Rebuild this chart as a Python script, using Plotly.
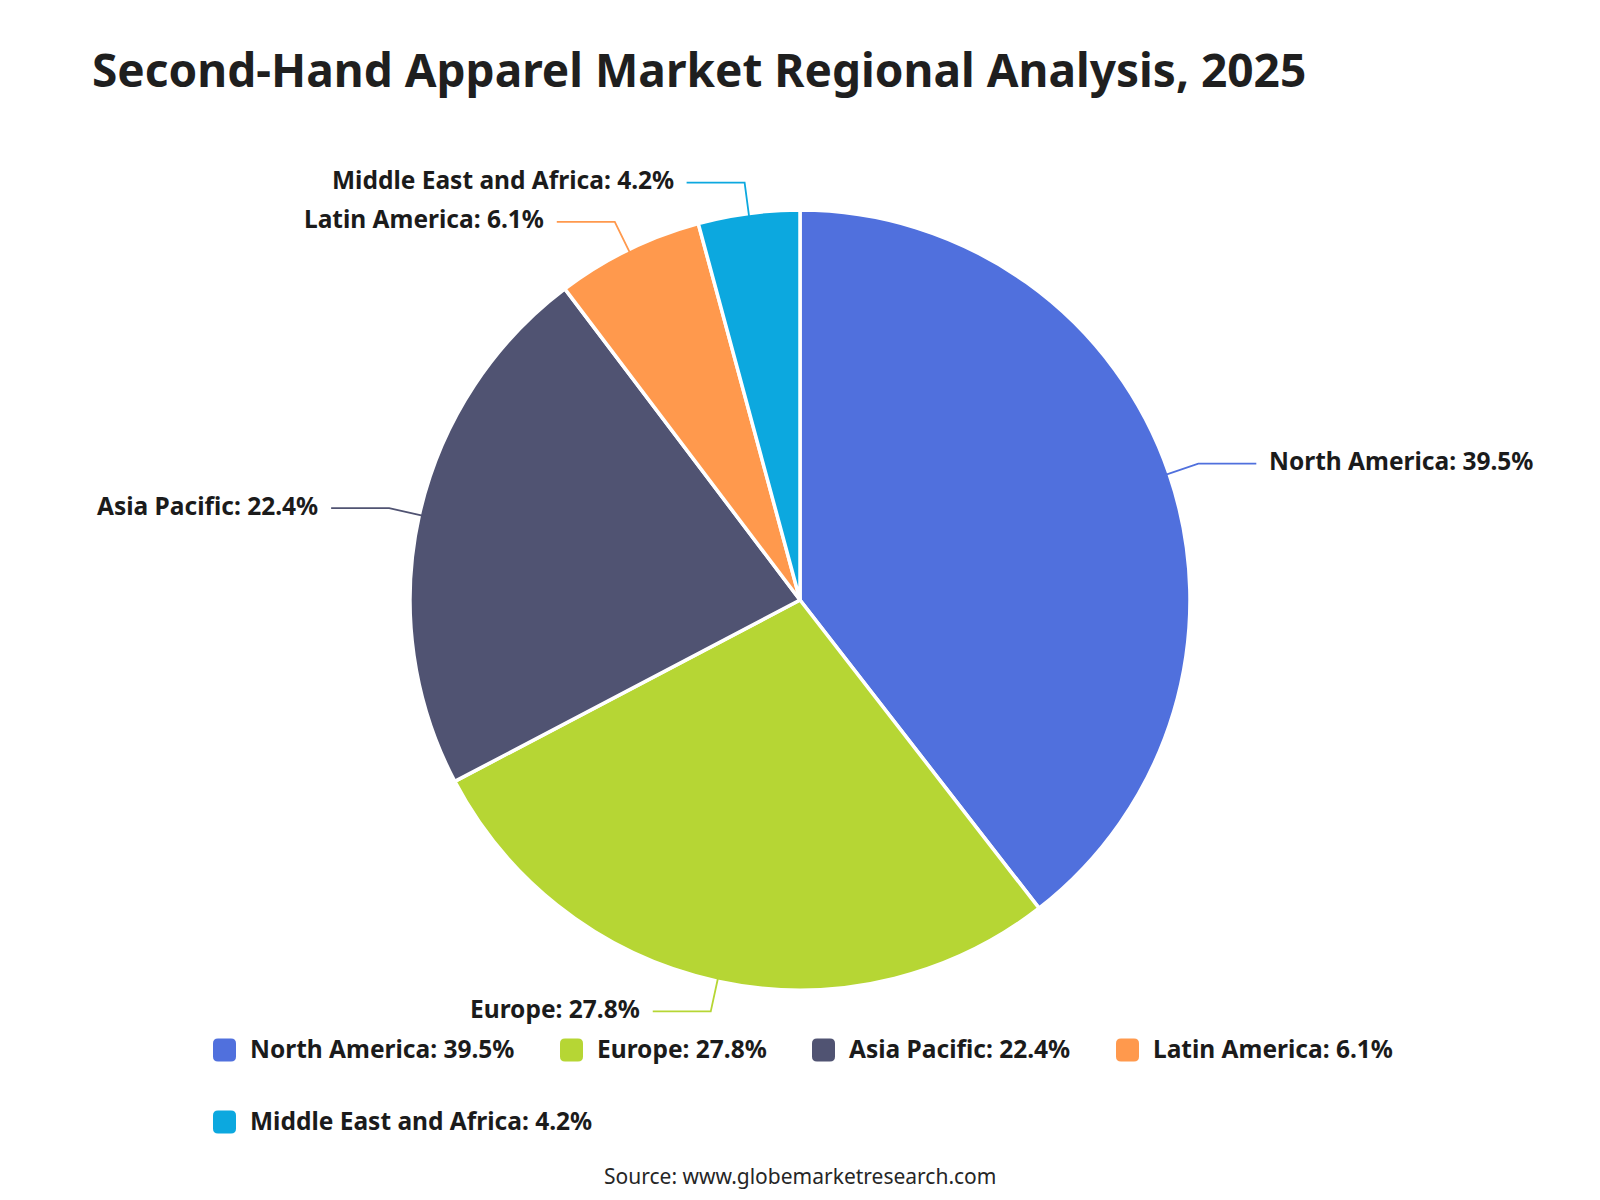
import math
import plotly.graph_objects as go

# ---- data ----
regions = ["North America", "Europe", "Asia Pacific", "Latin America", "Middle East and Africa"]
shares = [39.5, 27.8, 22.4, 6.1, 4.2]
colors = ["#5070dd", "#b6d634", "#505372", "#ff994d", "#0ca8df"]
title_text = "Second-Hand Apparel Market Regional Analysis, 2025"
source_text = "Source: www.globemarketresearch.com"

# ---- layout constants (pixels) ----
W, H = 1600, 1200
CX, CY, R = 800, 600, 390
R_ELBOW = 421
H_LEN = 58
GAP = 11
FONT = "Noto Sans"
TXT = "#1b1b1b"
LSIZE = 24.5

labels_full = [f"{r}: {v}%" for r, v in zip(regions, shares)]

fig = go.Figure()
fig.add_trace(go.Pie(
    labels=regions, values=shares, sort=False, direction="clockwise", rotation=0,
    marker=dict(colors=colors, line=dict(color="white", width=3.5)),
    textinfo="none", hoverinfo="label+percent", showlegend=False,
    domain=dict(x=[(CX - R) / W, (CX + R) / W], y=[1 - (CY + R) / H, 1 - (CY - R) / H]),
))
# invisible cartesian overlay in pixel coordinates for leader lines / legend
fig.add_trace(go.Scatter(x=[None], y=[None], mode="markers", showlegend=False, hoverinfo="skip"))

shapes = []
annotations = []
total = sum(shares)
cum = 0.0
for name, v, c, lab in zip(regions, shares, colors, labels_full):
    mid = (cum + v / 2) / total
    cum += v
    th = 2 * math.pi * mid
    sx, sy = math.sin(th), -math.cos(th)
    x0, y0 = CX + (R - 3) * sx, CY + (R - 3) * sy
    x1, y1 = CX + R_ELBOW * sx, CY + R_ELBOW * sy
    side = 1 if sx >= 0 else -1
    x2 = x1 + side * H_LEN
    shapes.append(dict(type="path", xref="x", yref="y",
                       path=f"M{x0},{y0} L{x1},{y1} L{x2},{y1}",
                       line=dict(color=c, width=1.8)))
    annotations.append(dict(x=x2 + side * GAP, y=y1 - 3, xref="x", yref="y", text=f"<b>{lab}</b>",
                            showarrow=False, xanchor="left" if side > 0 else "right", yanchor="middle",
                            font=dict(family=FONT, size=LSIZE, color=TXT)))

# custom legend (rounded squares + labels)
leg_pos = [(213, 1050), (560, 1050), (812, 1050), (1116, 1050), (213, 1122)]
S, RR = 23, 5
for (lx, ly), c, lab in zip(leg_pos, colors, labels_full):
    a, b = lx, ly - S / 2
    p = (f"M{a+RR},{b} L{a+S-RR},{b} Q{a+S},{b} {a+S},{b+RR} L{a+S},{b+S-RR} "
         f"Q{a+S},{b+S} {a+S-RR},{b+S} L{a+RR},{b+S} Q{a},{b+S} {a},{b+S-RR} "
         f"L{a},{b+RR} Q{a},{b} {a+RR},{b} Z")
    shapes.append(dict(type="path", xref="x", yref="y", path=p, fillcolor=c, line=dict(width=0)))
    annotations.append(dict(x=lx + S + 12, y=ly - 2, xref="x", yref="y", text=f"<b>{lab}</b>",
                            showarrow=False, xanchor="left", yanchor="middle",
                            font=dict(family=FONT, size=LSIZE, color=TXT)))

annotations.append(dict(x=90, y=69, xref="x", yref="y", text=f"<b>{title_text}</b>", showarrow=False,
                        xanchor="left", yanchor="middle", font=dict(family=FONT, size=46, color="#1f1f1f")))
annotations.append(dict(x=800, y=1176, xref="x", yref="y", text=source_text, showarrow=False,
                        xanchor="center", yanchor="middle", font=dict(family=FONT, size=21, color="#262626")))

fig.update_layout(
    width=W, height=H, margin=dict(l=0, r=0, t=0, b=0),
    paper_bgcolor="white", plot_bgcolor="rgba(0,0,0,0)",
    xaxis=dict(range=[0, W], visible=False, fixedrange=True, domain=[0, 1]),
    yaxis=dict(range=[H, 0], visible=False, fixedrange=True, domain=[0, 1]),
    shapes=shapes, annotations=annotations, showlegend=False,
)
fig.write_html("out.html")
